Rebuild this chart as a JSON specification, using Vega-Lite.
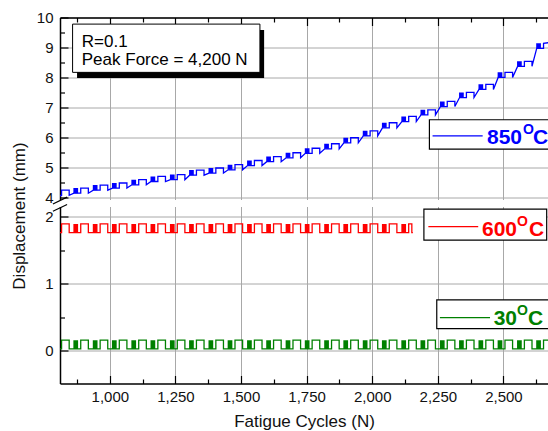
{
  "$schema": "https://vega.github.io/schema/vega-lite/v6.json",
  "padding": {"left": 10, "top": 10.5, "right": 0, "bottom": 0},
  "bounds": "flush",
  "spacing": 7,
  "config": {
    "view": {"stroke": null},
    "font": "Liberation Sans",
    "axis": {
      "domainColor": "#000", "domainWidth": 1.5,
      "tickColor": "#000", "tickWidth": 1.2,
      "labelFont": "Liberation Sans", "labelFontSize": 15, "labelColor": "#111",
      "titleFont": "Liberation Sans", "titleFontSize": 17, "titleFontWeight": "normal", "titleColor": "#111",
      "gridWidth": 1, "labelOverlap": false, "labelFlush": false
    }
  },
  "datasets": {
    "blue": [
      {"x":810,"y":4.03},{"x":813,"y":4.07},
      {"x":816,"y":4.07},{"x":816,"y":4.24},{"x":845,"y":4.24},{"x":845,"y":4.07},
      {"x":863,"y":4.14},{"x":889,"y":4.14},{"x":889,"y":4.31},{"x":918,"y":4.31},{"x":918,"y":4.14},
      {"x":937,"y":4.24},{"x":963,"y":4.24},{"x":963,"y":4.41},{"x":992,"y":4.41},{"x":992,"y":4.24},
      {"x":1010,"y":4.31},{"x":1036,"y":4.31},{"x":1036,"y":4.48},{"x":1065,"y":4.48},{"x":1065,"y":4.31},
      {"x":1084,"y":4.42},{"x":1110,"y":4.42},{"x":1110,"y":4.59},{"x":1139,"y":4.59},{"x":1139,"y":4.42},
      {"x":1157,"y":4.53},{"x":1183,"y":4.53},{"x":1183,"y":4.70},{"x":1212,"y":4.70},{"x":1212,"y":4.53},
      {"x":1231,"y":4.59},{"x":1257,"y":4.59},{"x":1257,"y":4.76},{"x":1286,"y":4.76},{"x":1286,"y":4.59},
      {"x":1304,"y":4.74},{"x":1330,"y":4.74},{"x":1330,"y":4.91},{"x":1359,"y":4.91},{"x":1359,"y":4.74},
      {"x":1378,"y":4.81},{"x":1404,"y":4.81},{"x":1404,"y":4.98},{"x":1433,"y":4.98},{"x":1433,"y":4.81},
      {"x":1451,"y":4.92},{"x":1477,"y":4.92},{"x":1477,"y":5.09},{"x":1506,"y":5.09},{"x":1506,"y":4.92},
      {"x":1525,"y":5.06},{"x":1551,"y":5.06},{"x":1551,"y":5.23},{"x":1580,"y":5.23},{"x":1580,"y":5.06},
      {"x":1598,"y":5.19},{"x":1624,"y":5.19},{"x":1624,"y":5.36},{"x":1653,"y":5.36},{"x":1653,"y":5.19},
      {"x":1672,"y":5.32},{"x":1698,"y":5.32},{"x":1698,"y":5.49},{"x":1727,"y":5.49},{"x":1727,"y":5.32},
      {"x":1745,"y":5.47},{"x":1771,"y":5.47},{"x":1771,"y":5.64},{"x":1800,"y":5.64},{"x":1800,"y":5.47},
      {"x":1819,"y":5.62},{"x":1845,"y":5.62},{"x":1845,"y":5.79},{"x":1874,"y":5.79},{"x":1874,"y":5.62},
      {"x":1892,"y":5.82},{"x":1918,"y":5.82},{"x":1918,"y":5.99},{"x":1947,"y":5.99},{"x":1947,"y":5.82},
      {"x":1966,"y":6.05},{"x":1992,"y":6.05},{"x":1992,"y":6.22},{"x":2021,"y":6.22},{"x":2021,"y":6.05},
      {"x":2039,"y":6.32},{"x":2065,"y":6.32},{"x":2065,"y":6.49},{"x":2094,"y":6.49},{"x":2094,"y":6.32},
      {"x":2113,"y":6.53},{"x":2139,"y":6.53},{"x":2139,"y":6.70},{"x":2168,"y":6.70},{"x":2168,"y":6.53},
      {"x":2186,"y":6.75},{"x":2212,"y":6.75},{"x":2212,"y":6.92},{"x":2241,"y":6.92},{"x":2241,"y":6.75},
      {"x":2260,"y":7.03},{"x":2286,"y":7.03},{"x":2286,"y":7.20},{"x":2315,"y":7.20},{"x":2315,"y":7.03},
      {"x":2333,"y":7.33},{"x":2359,"y":7.33},{"x":2359,"y":7.50},{"x":2388,"y":7.50},{"x":2388,"y":7.33},
      {"x":2407,"y":7.60},{"x":2433,"y":7.60},{"x":2433,"y":7.77},{"x":2462,"y":7.77},{"x":2462,"y":7.60},
      {"x":2480,"y":8.00},{"x":2506,"y":8.00},{"x":2506,"y":8.17},{"x":2535,"y":8.17},{"x":2535,"y":8.00},
      {"x":2554,"y":8.37},{"x":2580,"y":8.37},{"x":2580,"y":8.54},{"x":2609,"y":8.54},{"x":2609,"y":8.37},
      {"x":2627,"y":8.97},{"x":2653,"y":8.97},{"x":2653,"y":9.14},{"x":2672,"y":9.16}
    ],
    "blueB": [
      {"x":861,"x2":879,"lo":4.14,"hi":4.31},{"x":935,"x2":953,"lo":4.24,"hi":4.41},
      {"x":1008,"x2":1026,"lo":4.31,"hi":4.48},{"x":1082,"x2":1100,"lo":4.42,"hi":4.59},
      {"x":1155,"x2":1173,"lo":4.53,"hi":4.70},{"x":1229,"x2":1247,"lo":4.59,"hi":4.76},
      {"x":1302,"x2":1320,"lo":4.74,"hi":4.91},{"x":1376,"x2":1394,"lo":4.81,"hi":4.98},
      {"x":1449,"x2":1467,"lo":4.92,"hi":5.09},{"x":1523,"x2":1541,"lo":5.06,"hi":5.23},
      {"x":1596,"x2":1614,"lo":5.19,"hi":5.36},{"x":1670,"x2":1688,"lo":5.32,"hi":5.49},
      {"x":1743,"x2":1761,"lo":5.47,"hi":5.64},{"x":1817,"x2":1835,"lo":5.62,"hi":5.79},
      {"x":1890,"x2":1908,"lo":5.82,"hi":5.99},{"x":1964,"x2":1982,"lo":6.05,"hi":6.22},
      {"x":2037,"x2":2055,"lo":6.32,"hi":6.49},{"x":2111,"x2":2129,"lo":6.53,"hi":6.70},
      {"x":2184,"x2":2202,"lo":6.75,"hi":6.92},{"x":2258,"x2":2276,"lo":7.03,"hi":7.20},
      {"x":2331,"x2":2349,"lo":7.33,"hi":7.50},{"x":2405,"x2":2423,"lo":7.60,"hi":7.77},
      {"x":2478,"x2":2496,"lo":8.00,"hi":8.17},{"x":2552,"x2":2570,"lo":8.37,"hi":8.54},
      {"x":2625,"x2":2643,"lo":8.97,"hi":9.14}
    ],
    "red": [
      {"x":810,"y":1.76},{"x":816,"y":1.89},{"x":845,"y":1.76},{"x":889,"y":1.89},{"x":918,"y":1.76},
      {"x":963,"y":1.89},{"x":992,"y":1.76},{"x":1036,"y":1.89},{"x":1065,"y":1.76},{"x":1110,"y":1.89},
      {"x":1139,"y":1.76},{"x":1183,"y":1.89},{"x":1212,"y":1.76},{"x":1257,"y":1.89},{"x":1286,"y":1.76},
      {"x":1330,"y":1.89},{"x":1359,"y":1.76},{"x":1404,"y":1.89},{"x":1433,"y":1.76},{"x":1477,"y":1.89},
      {"x":1506,"y":1.76},{"x":1551,"y":1.89},{"x":1580,"y":1.76},{"x":1624,"y":1.89},{"x":1653,"y":1.76},
      {"x":1698,"y":1.89},{"x":1727,"y":1.76},{"x":1771,"y":1.89},{"x":1800,"y":1.76},{"x":1845,"y":1.89},
      {"x":1874,"y":1.76},{"x":1918,"y":1.89},{"x":1947,"y":1.76},{"x":1992,"y":1.89},{"x":2021,"y":1.76},
      {"x":2065,"y":1.89},{"x":2094,"y":1.76},{"x":2139,"y":1.89},{"x":2151,"y":1.76},{"x":2155,"y":1.76}
    ],
    "redB": [
      {"x":861,"x2":879,"lo":1.76,"hi":1.89},{"x":935,"x2":953,"lo":1.76,"hi":1.89},
      {"x":1008,"x2":1026,"lo":1.76,"hi":1.89},{"x":1082,"x2":1100,"lo":1.76,"hi":1.89},
      {"x":1155,"x2":1173,"lo":1.76,"hi":1.89},{"x":1229,"x2":1247,"lo":1.76,"hi":1.89},
      {"x":1302,"x2":1320,"lo":1.76,"hi":1.89},{"x":1376,"x2":1394,"lo":1.76,"hi":1.89},
      {"x":1449,"x2":1467,"lo":1.76,"hi":1.89},{"x":1523,"x2":1541,"lo":1.76,"hi":1.89},
      {"x":1596,"x2":1614,"lo":1.76,"hi":1.89},{"x":1670,"x2":1688,"lo":1.76,"hi":1.89},
      {"x":1743,"x2":1761,"lo":1.76,"hi":1.89},{"x":1817,"x2":1835,"lo":1.76,"hi":1.89},
      {"x":1890,"x2":1908,"lo":1.76,"hi":1.89},{"x":1964,"x2":1982,"lo":1.76,"hi":1.89},
      {"x":2037,"x2":2055,"lo":1.76,"hi":1.89},{"x":2111,"x2":2129,"lo":1.76,"hi":1.89}
    ],
    "green": [
      {"x":810,"y":0.03},{"x":816,"y":0.16},{"x":845,"y":0.03},{"x":889,"y":0.16},{"x":918,"y":0.03},
      {"x":963,"y":0.16},{"x":992,"y":0.03},{"x":1036,"y":0.16},{"x":1065,"y":0.03},{"x":1110,"y":0.16},
      {"x":1139,"y":0.03},{"x":1183,"y":0.16},{"x":1212,"y":0.03},{"x":1257,"y":0.16},{"x":1286,"y":0.03},
      {"x":1330,"y":0.16},{"x":1359,"y":0.03},{"x":1404,"y":0.16},{"x":1433,"y":0.03},{"x":1477,"y":0.16},
      {"x":1506,"y":0.03},{"x":1551,"y":0.16},{"x":1580,"y":0.03},{"x":1624,"y":0.16},{"x":1653,"y":0.03},
      {"x":1698,"y":0.16},{"x":1727,"y":0.03},{"x":1771,"y":0.16},{"x":1800,"y":0.03},{"x":1845,"y":0.16},
      {"x":1874,"y":0.03},{"x":1918,"y":0.16},{"x":1947,"y":0.03},{"x":1992,"y":0.16},{"x":2021,"y":0.03},
      {"x":2065,"y":0.16},{"x":2094,"y":0.03},{"x":2139,"y":0.16},{"x":2168,"y":0.03},{"x":2212,"y":0.16},
      {"x":2241,"y":0.03},{"x":2286,"y":0.16},{"x":2315,"y":0.03},{"x":2359,"y":0.16},{"x":2388,"y":0.03},
      {"x":2433,"y":0.16},{"x":2462,"y":0.03},{"x":2506,"y":0.16},{"x":2535,"y":0.03},{"x":2580,"y":0.16},
      {"x":2609,"y":0.03},{"x":2653,"y":0.16},{"x":2672,"y":0.16}
    ],
    "greenB": [
      {"x":861,"x2":879,"lo":0.03,"hi":0.16},{"x":935,"x2":953,"lo":0.03,"hi":0.16},
      {"x":1008,"x2":1026,"lo":0.03,"hi":0.16},{"x":1082,"x2":1100,"lo":0.03,"hi":0.16},
      {"x":1155,"x2":1173,"lo":0.03,"hi":0.16},{"x":1229,"x2":1247,"lo":0.03,"hi":0.16},
      {"x":1302,"x2":1320,"lo":0.03,"hi":0.16},{"x":1376,"x2":1394,"lo":0.03,"hi":0.16},
      {"x":1449,"x2":1467,"lo":0.03,"hi":0.16},{"x":1523,"x2":1541,"lo":0.03,"hi":0.16},
      {"x":1596,"x2":1614,"lo":0.03,"hi":0.16},{"x":1670,"x2":1688,"lo":0.03,"hi":0.16},
      {"x":1743,"x2":1761,"lo":0.03,"hi":0.16},{"x":1817,"x2":1835,"lo":0.03,"hi":0.16},
      {"x":1890,"x2":1908,"lo":0.03,"hi":0.16},{"x":1964,"x2":1982,"lo":0.03,"hi":0.16},
      {"x":2037,"x2":2055,"lo":0.03,"hi":0.16},{"x":2111,"x2":2129,"lo":0.03,"hi":0.16},
      {"x":2184,"x2":2202,"lo":0.03,"hi":0.16},{"x":2258,"x2":2276,"lo":0.03,"hi":0.16},
      {"x":2331,"x2":2349,"lo":0.03,"hi":0.16},{"x":2405,"x2":2423,"lo":0.03,"hi":0.16},
      {"x":2478,"x2":2496,"lo":0.03,"hi":0.16},{"x":2552,"x2":2570,"lo":0.03,"hi":0.16},
      {"x":2625,"x2":2643,"lo":0.03,"hi":0.16}
    ]
  },
  "vconcat": [
    {
      "width": 488, "height": 182,
      "resolve": {"axis": {"x": "independent", "y": "independent"}},
      "layer": [
        {
          "data": {"name": "blue"},
          "mark": {"type": "line", "color": "#0000ff", "strokeWidth": 1.3, "clip": true},
          "encoding": {
            "x": {"field": "x", "type": "quantitative",
              "scale": {"domain": [810, 2670], "nice": false, "zero": false},
              "axis": {"orient": "top", "title": null, "labels": false, "ticks": false,
                "values": [1000,1250,1500,1750,2000,2250,2500], "gridColor": "#a8a8a8"}},
            "y": {"field": "y", "type": "quantitative",
              "scale": {"domain": [3.93, 10], "nice": false, "zero": false},
              "axis": {"orient": "left", "title": null, "labelPadding": 7, "ticks": false, "format": "d",
                "values": [4,5,6,7,8,9,10], "gridColor": "#a8a8a8"}},
            "order": {"value": null}
          }
        },
        {
          "data": {"name": "blueB"},
          "mark": {"type": "rect", "color": "#0000ff", "clip": true},
          "encoding": {
            "x": {"field": "x", "type": "quantitative",
              "axis": {"orient": "top", "title": null, "labels": false, "ticks": false, "domain": false,
                "values": [875,1125,1375,1625,1875,2125,2375,2625], "gridColor": "#cccccc", "gridDash": [1.5, 1.5]}},
            "x2": {"field": "x2"},
            "y": {"field": "lo", "type": "quantitative",
              "axis": {"orient": "left", "title": null, "labels": false, "ticks": false, "domain": false,
                "values": [4.5,5.5,6.5,7.5,8.5,9.5], "gridColor": "#cccccc", "gridDash": [1.5, 1.5]}},
            "y2": {"field": "hi"}
          }
        },
        {
          "data": {"values": [{}]},
          "mark": {"type": "rect", "fill": "#000"},
          "encoding": {
            "x": {"datum": 875, "axis": {"orient": "bottom", "offset": -182, "title": null, "labels": false, "domain": false, "grid": false, "tickSize": 8,
              "values": [1000,1250,1500,1750,2000,2250,2500]}},
            "x2": {"datum": 1588},
            "y": {"datum": 9.58, "axis": {"orient": "right", "offset": -488, "title": null, "labels": false, "domain": false, "grid": false, "tickSize": 8,
              "values": [4,5,6,7,8,9,10]}},
            "y2": {"datum": 7.98}
          }
        },
        {
          "data": {"values": [{}]},
          "mark": {"type": "rect", "fill": "#fff", "stroke": "#000", "strokeWidth": 1},
          "encoding": {
            "x": {"datum": 858, "axis": {"orient": "bottom", "offset": -182, "title": null, "labels": false, "domain": false, "grid": false, "tickSize": 4.5,
              "values": [875,1125,1375,1625,1875,2125,2375,2625]}},
            "x2": {"datum": 1572},
            "y": {"datum": 9.78, "axis": {"orient": "right", "offset": -488, "title": null, "labels": false, "domain": false, "grid": false, "tickSize": 4.5,
              "values": [4.5,5.5,6.5,7.5,8.5,9.5]}},
            "y2": {"datum": 8.17}
          }
        },
        {
          "data": {"values": [{}]},
          "mark": {"type": "text", "text": "R=0.1", "align": "left", "baseline": "alphabetic", "fontSize": 17, "color": "#000"},
          "encoding": {"x": {"datum": 893, "axis": null}, "y": {"datum": 9.03, "axis": null}}
        },
        {
          "data": {"values": [{}]},
          "mark": {"type": "text", "text": "Peak Force = 4,200 N", "align": "left", "baseline": "alphabetic", "fontSize": 17, "color": "#000"},
          "encoding": {"x": {"datum": 893, "axis": null}, "y": {"datum": 8.41, "axis": null}}
        },
        {
          "data": {"values": [{}]},
          "mark": {"type": "rect", "fill": "#fff", "stroke": "#000", "strokeWidth": 1.2, "clip": true},
          "encoding": {"x": {"datum": 2218, "axis": null}, "x2": {"datum": 2760}, "y": {"datum": 6.59, "axis": null}, "y2": {"datum": 5.61}}
        },
        {
          "data": {"values": [{}]},
          "mark": {"type": "rule", "color": "#0000ff", "strokeWidth": 1.2},
          "encoding": {"x": {"datum": 2230, "axis": null}, "x2": {"datum": 2421}, "y": {"datum": 6.05, "axis": null}}
        },
        {
          "data": {"values": [{}]},
          "mark": {"type": "text", "text": "850", "align": "right", "baseline": "alphabetic", "fontSize": 21, "fontWeight": "bold", "color": "#0000ff", "clip": true},
          "encoding": {"x": {"datum": 2571, "axis": null}, "y": {"datum": 5.78, "axis": null}}
        },
        {
          "data": {"values": [{}]},
          "mark": {"type": "text", "text": "O", "align": "left", "baseline": "alphabetic", "fontSize": 14, "fontWeight": "bold", "color": "#0000ff", "dx": 1, "dy": -10, "clip": true},
          "encoding": {"x": {"datum": 2571, "axis": null}, "y": {"datum": 5.78, "axis": null}}
        },
        {
          "data": {"values": [{}]},
          "mark": {"type": "text", "text": "C", "align": "left", "baseline": "alphabetic", "fontSize": 21, "fontWeight": "bold", "color": "#0000ff", "dx": 11, "clip": true},
          "encoding": {"x": {"datum": 2571, "axis": null}, "y": {"datum": 5.78, "axis": null}}
        },
        {
          "data": {"values": [{}]},
          "mark": {"type": "rule", "color": "#000", "strokeWidth": 1.2},
          "encoding": {"x": {"datum": 783, "axis": null}, "x2": {"datum": 837}, "y": {"datum": 3.78, "axis": null}, "y2": {"datum": 4.01}}
        }
      ]
    },
    {
      "width": 488, "height": 177,
      "resolve": {"axis": {"x": "independent", "y": "independent"}},
      "layer": [
        {
          "data": {"name": "red"},
          "mark": {"type": "line", "color": "#ff0000", "strokeWidth": 1.3, "interpolate": "step-after", "clip": true},
          "encoding": {
            "x": {"field": "x", "type": "quantitative",
              "scale": {"domain": [810, 2670], "nice": false, "zero": false},
              "axis": {"orient": "bottom", "title": "Fatigue Cycles (N)", "format": ",d", "labelPadding": 6, "titlePadding": 9, "ticks": false,
                "values": [1000,1250,1500,1750,2000,2250,2500], "gridColor": "#a8a8a8"}},
            "y": {"field": "y", "type": "quantitative",
              "scale": {"domain": [-0.485, 2.15], "nice": false, "zero": false},
              "axis": {"orient": "left", "title": "Displacement (mm)", "format": "d", "labelPadding": 7, "titlePadding": 16, "titleY": 9, "ticks": false,
                "values": [0,1,2], "gridColor": "#a8a8a8"}}
          }
        },
        {
          "data": {"name": "redB"},
          "mark": {"type": "rect", "color": "#ff0000", "clip": true},
          "encoding": {
            "x": {"field": "x", "type": "quantitative",
              "axis": {"orient": "bottom", "title": null, "labels": false, "ticks": false, "domain": false,
                "values": [875,1125,1375,1625,1875,2125,2375,2625], "gridColor": "#cccccc", "gridDash": [1.5, 1.5]}},
            "x2": {"field": "x2"},
            "y": {"field": "lo", "type": "quantitative",
              "axis": {"orient": "left", "title": null, "labels": false, "ticks": false, "domain": false,
                "values": [0.5,1.5], "gridColor": "#cccccc", "gridDash": [1.5, 1.5]}},
            "y2": {"field": "hi"}
          }
        },
        {
          "data": {"name": "green"},
          "mark": {"type": "line", "color": "#008000", "strokeWidth": 1.3, "interpolate": "step-after", "clip": true},
          "encoding": {
            "x": {"field": "x", "type": "quantitative",
              "axis": {"orient": "top", "offset": -177, "title": null, "labels": false, "domain": false, "grid": false, "tickSize": 8,
                "values": [1000,1250,1500,1750,2000,2250,2500]}},
            "y": {"field": "y", "type": "quantitative",
              "axis": {"orient": "right", "offset": -488, "title": null, "labels": false, "domain": false, "grid": false, "tickSize": 8,
                "values": [0,1,2]}}
          }
        },
        {
          "data": {"name": "greenB"},
          "mark": {"type": "rect", "color": "#008000", "clip": true},
          "encoding": {
            "x": {"field": "x", "type": "quantitative",
              "axis": {"orient": "top", "offset": -177, "title": null, "labels": false, "domain": false, "grid": false, "tickSize": 4.5,
                "values": [875,1125,1375,1625,1875,2125,2375,2625]}},
            "x2": {"field": "x2"},
            "y": {"field": "lo", "type": "quantitative",
              "axis": {"orient": "right", "offset": -488, "title": null, "labels": false, "domain": false, "grid": false, "tickSize": 4.5,
                "values": [0.5,1.5]}},
            "y2": {"field": "hi"}
          }
        },
        {
          "data": {"values": [{}]},
          "mark": {"type": "rect", "fill": "#fff", "stroke": "#000", "strokeWidth": 1.2, "clip": true},
          "encoding": {"x": {"datum": 2197, "axis": null}, "x2": {"datum": 2665}, "y": {"datum": 2.11, "axis": null}, "y2": {"datum": 1.65}}
        },
        {
          "data": {"values": [{}]},
          "mark": {"type": "rule", "color": "#ff0000", "strokeWidth": 1.2},
          "encoding": {"x": {"datum": 2214, "axis": null}, "x2": {"datum": 2404}, "y": {"datum": 1.85, "axis": null}}
        },
        {
          "data": {"values": [{}]},
          "mark": {"type": "text", "text": "600", "align": "right", "baseline": "alphabetic", "fontSize": 21, "fontWeight": "bold", "color": "#ff0000", "clip": true},
          "encoding": {"x": {"datum": 2552, "axis": null}, "y": {"datum": 1.71, "axis": null}}
        },
        {
          "data": {"values": [{}]},
          "mark": {"type": "text", "text": "O", "align": "left", "baseline": "alphabetic", "fontSize": 14, "fontWeight": "bold", "color": "#ff0000", "dx": 0, "dy": -10, "clip": true},
          "encoding": {"x": {"datum": 2552, "axis": null}, "y": {"datum": 1.71, "axis": null}}
        },
        {
          "data": {"values": [{}]},
          "mark": {"type": "text", "text": "C", "align": "left", "baseline": "alphabetic", "fontSize": 21, "fontWeight": "bold", "color": "#ff0000", "dx": 12, "clip": true},
          "encoding": {"x": {"datum": 2552, "axis": null}, "y": {"datum": 1.71, "axis": null}}
        },
        {
          "data": {"values": [{}]},
          "mark": {"type": "rect", "fill": "#fff", "stroke": "#000", "strokeWidth": 1.2, "clip": true},
          "encoding": {"x": {"datum": 2246, "axis": null}, "x2": {"datum": 2760}, "y": {"datum": 0.76, "axis": null}, "y2": {"datum": 0.333}}
        },
        {
          "data": {"values": [{}]},
          "mark": {"type": "rule", "color": "#008000", "strokeWidth": 1.2},
          "encoding": {"x": {"datum": 2258, "axis": null}, "x2": {"datum": 2449}, "y": {"datum": 0.497, "axis": null}}
        },
        {
          "data": {"values": [{}]},
          "mark": {"type": "text", "text": "30", "align": "right", "baseline": "alphabetic", "fontSize": 21, "fontWeight": "bold", "color": "#008000", "clip": true},
          "encoding": {"x": {"datum": 2552, "axis": null}, "y": {"datum": 0.382, "axis": null}}
        },
        {
          "data": {"values": [{}]},
          "mark": {"type": "text", "text": "O", "align": "left", "baseline": "alphabetic", "fontSize": 14, "fontWeight": "bold", "color": "#008000", "dx": 0, "dy": -10, "clip": true},
          "encoding": {"x": {"datum": 2552, "axis": null}, "y": {"datum": 0.382, "axis": null}}
        },
        {
          "data": {"values": [{}]},
          "mark": {"type": "text", "text": "C", "align": "left", "baseline": "alphabetic", "fontSize": 21, "fontWeight": "bold", "color": "#008000", "dx": 11, "clip": true},
          "encoding": {"x": {"datum": 2552, "axis": null}, "y": {"datum": 0.382, "axis": null}}
        },
        {
          "data": {"values": [{}]},
          "mark": {"type": "rule", "color": "#000", "strokeWidth": 1.2},
          "encoding": {"x": {"datum": 783, "axis": null}, "x2": {"datum": 837}, "y": {"datum": 2.08, "axis": null}, "y2": {"datum": 2.18}}
        }
      ]
    }
  ]
}
